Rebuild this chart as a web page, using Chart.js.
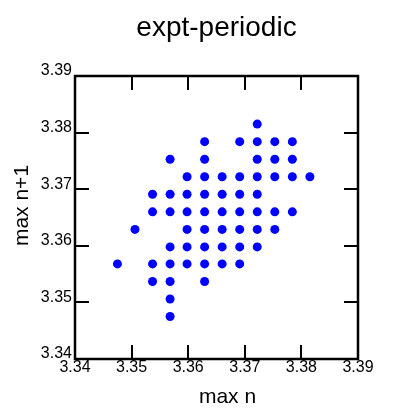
<!DOCTYPE html>
<html>
<head>
<meta charset="utf-8">
<script src="https://cdn.jsdelivr.net/npm/chart.js@4/dist/chart.umd.min.js"></script>
<style>
html,body{margin:0;padding:0;background:#fff;}
#wrap{width:396px;height:419px;position:relative;}
</style>
</head>
<body>
<div id="wrap"><canvas id="c" width="396" height="419"></canvas></div>
<script>
const chartTitle = 'expt-periodic';
const xTitle = 'max n';
const yTitle = 'max n+1';
const xTickValues = [3.34, 3.35, 3.36, 3.37, 3.38, 3.39];
const yTickValues = [3.34, 3.35, 3.36, 3.37, 3.38, 3.39];
const xTickLabels = ['3.34', '3.35', '3.36', '3.37', '3.38', '3.39'];
const yTickLabels = ['3.34', '3.35', '3.36', '3.37', '3.38', '3.39'];

const xValues = [
  3.3722,
  3.3629, 3.3691, 3.3722, 3.3753, 3.3784,
  3.3568, 3.3629, 3.3722, 3.3753, 3.3784,
  3.3598, 3.3629, 3.3660, 3.3691, 3.3722, 3.3753, 3.3784, 3.3815,
  3.3537, 3.3568, 3.3598, 3.3629, 3.3660, 3.3691, 3.3722,
  3.3537, 3.3568, 3.3598, 3.3629, 3.3660, 3.3691, 3.3722, 3.3753, 3.3784,
  3.3506, 3.3598, 3.3629, 3.3660, 3.3691, 3.3722, 3.3753,
  3.3568, 3.3598, 3.3629, 3.3660, 3.3691, 3.3722,
  3.3475, 3.3537, 3.3568, 3.3598, 3.3629, 3.3660, 3.3691,
  3.3537, 3.3568, 3.3629,
  3.3568,
  3.3568
];
const yValues = [
  3.3815,
  3.3784, 3.3784, 3.3784, 3.3784, 3.3784,
  3.3753, 3.3753, 3.3753, 3.3753, 3.3753,
  3.3722, 3.3722, 3.3722, 3.3722, 3.3722, 3.3722, 3.3722, 3.3722,
  3.3691, 3.3691, 3.3691, 3.3691, 3.3691, 3.3691, 3.3691,
  3.3660, 3.3660, 3.3660, 3.3660, 3.3660, 3.3660, 3.3660, 3.3660, 3.3660,
  3.3629, 3.3629, 3.3629, 3.3629, 3.3629, 3.3629, 3.3629,
  3.3598, 3.3598, 3.3598, 3.3598, 3.3598, 3.3598,
  3.3568, 3.3568, 3.3568, 3.3568, 3.3568, 3.3568, 3.3568,
  3.3537, 3.3537, 3.3537,
  3.3506,
  3.3475
];

const points = xValues.map((x, i) => ({ x: x, y: yValues[i] }));
const FONT = '"Liberation Sans", Arial, Helvetica, sans-serif';

const boxTicks = {
  id: 'boxTicks',
  afterDatasetsDraw(chart) {
    const ctx = chart.ctx;
    const a = chart.chartArea;
    const xs = chart.scales.x, ys = chart.scales.y;
    const len = 14;
    ctx.save();
    ctx.strokeStyle = '#000';
    ctx.lineWidth = 2;
    ctx.lineCap = 'butt';
    ctx.beginPath();
    xTickValues.forEach(v => {
      const px = Math.round(xs.getPixelForValue(v));
      ctx.moveTo(px, a.bottom); ctx.lineTo(px, a.bottom - len);
      ctx.moveTo(px, a.top); ctx.lineTo(px, a.top + len);
    });
    yTickValues.forEach(v => {
      const py = Math.round(ys.getPixelForValue(v));
      ctx.moveTo(a.left, py); ctx.lineTo(a.left + len, py);
      ctx.moveTo(a.right, py); ctx.lineTo(a.right - len, py);
    });
    ctx.stroke();
    ctx.lineWidth = 2.5;
    ctx.strokeRect(a.left, a.top, a.right - a.left, a.bottom - a.top);

    // axis titles
    ctx.fillStyle = '#000';
    ctx.font = '21px ' + FONT;
    ctx.textAlign = 'center';
    ctx.textBaseline = 'alphabetic';
    ctx.fillText(xTitle, (a.left + a.right) / 2 + 11, a.bottom + 44);
    ctx.translate(28, (a.top + a.bottom) / 2 - 12);
    ctx.rotate(-Math.PI / 2);
    ctx.fillText(yTitle, 0, 0);
    ctx.restore();
  }
};

new Chart(document.getElementById('c'), {
  type: 'scatter',
  data: {
    datasets: [{
      data: points,
      backgroundColor: '#0000ff',
      borderWidth: 0,
      pointRadius: 4.5,
      pointHoverRadius: 4.5
    }]
  },
  options: {
    responsive: false,
    animation: false,
    events: [],
    layout: { padding: { left: 0, right: 38, top: 0, bottom: 0 } },
    plugins: {
      legend: { display: false },
      tooltip: { enabled: false },
      title: {
        display: true,
        text: chartTitle,
        fullSize: false,
        color: '#000',
        font: { family: FONT, size: 28, weight: 'normal', lineHeight: 1.2 },
        padding: { top: 11, bottom: 31.4 }
      }
    },
    scales: {
      x: {
        type: 'linear',
        min: 3.34, max: 3.39,
        afterBuildTicks(s) { s.ticks = xTickValues.map(v => ({ value: v })); },
        afterFit(s) { s.height = 60; },
        grid: { display: false, drawTicks: false },
        border: { display: false },
        ticks: {
          padding: -1,
          color: '#000',
          maxRotation: 0,
          autoSkip: false,
          font: { family: FONT, size: 16 },
          callback: (v) => xTickLabels[xTickValues.findIndex(t => Math.abs(t - v) < 1e-9)]
        }
      },
      y: {
        type: 'linear',
        min: 3.34, max: 3.39,
        afterBuildTicks(s) { s.ticks = yTickValues.map(v => ({ value: v })); },
        afterFit(s) { s.width = 75; },
        grid: { display: false, drawTicks: false },
        border: { display: false },
        ticks: {
          padding: 3,
          labelOffset: -5,
          color: '#000',
          autoSkip: false,
          font: { family: FONT, size: 16 },
          callback: (v) => yTickLabels[yTickValues.findIndex(t => Math.abs(t - v) < 1e-9)]
        }
      }
    }
  },
  plugins: [boxTicks]
});
</script>
</body>
</html>
